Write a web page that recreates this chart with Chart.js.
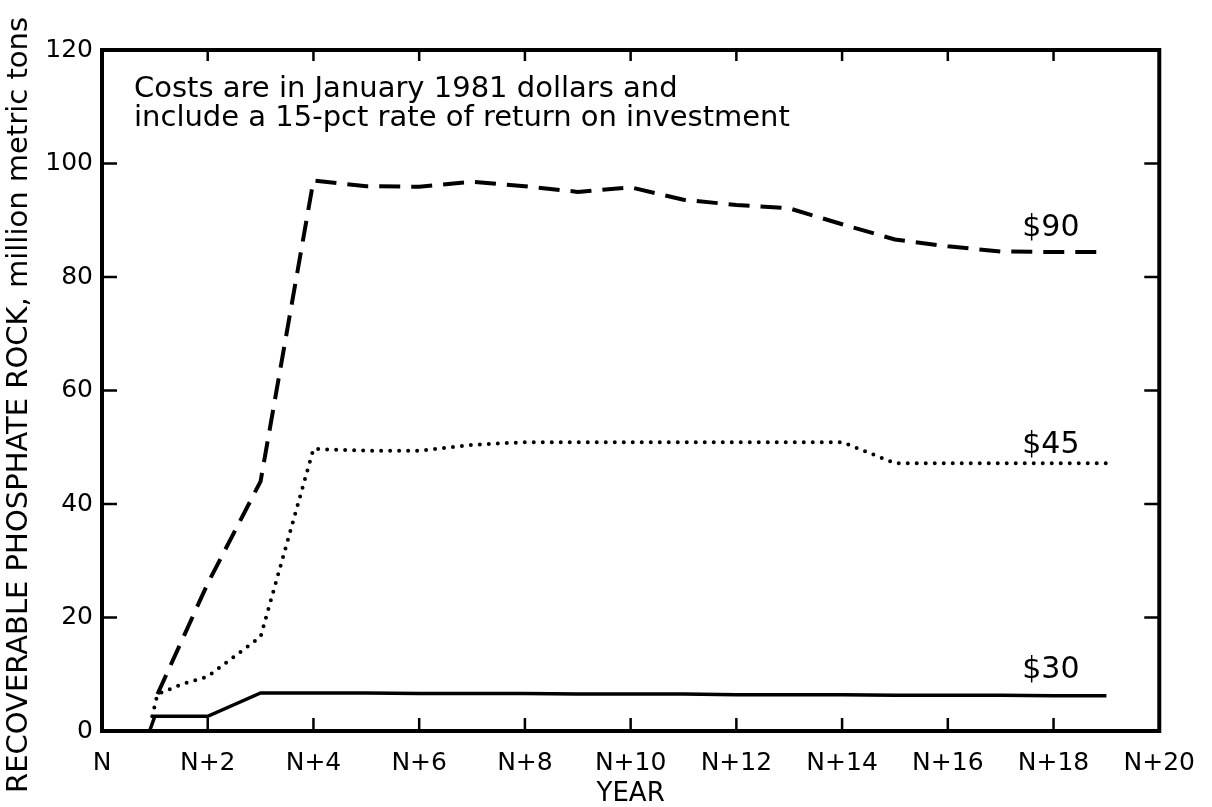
<!DOCTYPE html>
<html>
<head>
<meta charset="utf-8">
<script src="https://cdn.jsdelivr.net/npm/chart.js@4.4.0/dist/chart.umd.min.js"></script>
<style>
  body { margin: 0; background: #fff; }
</style>
</head>
<body>
<canvas id="rockChart" width="1212" height="807"></canvas>
<script>
// values (x = years after N, y = million metric tons)
const year90 = [1.05, 2, 3, 4, 5, 6, 7, 8, 9, 10, 11, 12, 13, 14, 15, 16, 17, 18, 19];
const tons90 = [6.5, 26, 44, 97, 96, 95.9, 96.8, 96, 95, 95.8, 93.6, 92.7, 92.1, 89.3, 86.6, 85.4, 84.5, 84.4, 84.4];

const year45 = [0.95, 1.05, 1.5, 2, 3, 4, 5, 6, 7, 8, 9, 10, 11, 12, 13, 14, 15, 16, 17, 18, 19];
const tons45 = [2.6, 6.5, 8.2, 9.6, 16.6, 49.7, 49.4, 49.4, 50.4, 50.9, 50.9, 50.9, 50.9, 50.9, 50.9, 50.9, 47.2, 47.2, 47.2, 47.2, 47.2];

const year30 = [0.9, 1, 2, 3, 4, 5, 6, 7, 8, 9, 10, 11, 12, 13, 14, 15, 16, 17, 18, 19];
const tons30 = [0, 2.6, 2.6, 6.7, 6.7, 6.7, 6.6, 6.6, 6.6, 6.5, 6.5, 6.5, 6.4, 6.4, 6.4, 6.3, 6.3, 6.3, 6.2, 6.2];

const seriesNames = ['$90', '$45', '$30'];
const xTickValues = [0, 2, 4, 6, 8, 10, 12, 14, 16, 18, 20];
const yTickValues = [0, 20, 40, 60, 80, 100, 120];
const noteLines = ['Costs are in January 1981 dollars and', 'include a 15-pct rate of return on investment'];
const xTitle = 'YEAR';
const yTitle = 'RECOVERABLE PHOSPHATE ROCK, million metric tons';

const FONT = '"DejaVu Sans", sans-serif';

const toPoints = (xs, ys) => xs.map((x, i) => ({ x: x, y: ys[i] }));

// frame, inward ticks, axis titles, series labels and the note
const framePlugin = {
  id: 'frame',
  afterDraw(chart) {
    const ctx = chart.ctx;
    const a = chart.chartArea;
    const xs = chart.scales.x;
    const ys = chart.scales.y;
    ctx.save();
    ctx.strokeStyle = '#000';
    ctx.lineCap = 'square';
    ctx.lineWidth = 4;
    ctx.strokeRect(a.left, a.top, a.right - a.left, a.bottom - a.top);

    ctx.lineWidth = 2.5;
    ctx.lineCap = 'butt';
    xTickValues.slice(1, -1).forEach(v => {
      const px = xs.getPixelForValue(v);
      ctx.beginPath();
      ctx.moveTo(px, a.bottom); ctx.lineTo(px, a.bottom - 13);
      ctx.moveTo(px, a.top); ctx.lineTo(px, a.top + 11);
      ctx.stroke();
    });
    yTickValues.slice(1, -1).forEach(v => {
      const py = ys.getPixelForValue(v);
      ctx.beginPath();
      ctx.moveTo(a.left, py); ctx.lineTo(a.left + 15, py);
      ctx.moveTo(a.right, py); ctx.lineTo(a.right - 15, py);
      ctx.stroke();
    });

    ctx.fillStyle = '#000';
    ctx.textAlign = 'center';
    ctx.textBaseline = 'middle';

    // axis titles
    ctx.font = '26px ' + FONT;
    ctx.fillText(xTitle, (a.left + a.right) / 2, 794);
    ctx.save();
    ctx.translate(19, 405);
    ctx.rotate(-Math.PI / 2);
    ctx.font = '29px ' + FONT;
    ctx.fillText(yTitle, 0, 0);
    ctx.restore();

    // series labels next to the line ends
    ctx.font = '30px ' + FONT;
    const labelY = [88.6, 50.3, 10.8];
    seriesNames.forEach((name, i) => {
      ctx.fillText(name, xs.getPixelForValue(17.95), ys.getPixelForValue(labelY[i]));
    });

    // note in the upper left
    ctx.font = '29px ' + FONT;
    ctx.textAlign = 'left';
    ctx.fillText(noteLines[0], 134, 89);
    ctx.fillText(noteLines[1], 134, 118);
    ctx.restore();
  }
};

new Chart(document.getElementById('rockChart'), {
  type: 'line',
  data: {
    datasets: [
      {
        label: seriesNames[0],
        data: toPoints(year90, tons90),
        borderColor: '#000',
        borderWidth: 4,
        borderDash: [21, 11],
        pointRadius: 0,
        tension: 0
      },
      {
        label: seriesNames[1],
        data: toPoints(year45, tons45),
        borderColor: '#000',
        borderWidth: 4,
        borderDash: [0, 9],
        borderCapStyle: 'round',
        pointRadius: 0,
        tension: 0
      },
      {
        label: seriesNames[2],
        data: toPoints(year30, tons30),
        borderColor: '#000',
        borderWidth: 3.5,
        pointRadius: 0,
        tension: 0
      }
    ]
  },
  options: {
    responsive: false,
    animation: false,
    layout: { padding: { top: 50, right: 52, left: 0, bottom: 0 } },
    plugins: {
      legend: { display: false },
      tooltip: { enabled: false }
    },
    scales: {
      x: {
        type: 'linear',
        min: 0,
        max: 20,
        afterBuildTicks: (scale) => { scale.ticks = xTickValues.map(v => ({ value: v })); },
        afterFit: (scale) => { scale.height = 76; },
        grid: { display: false, drawTicks: false },
        border: { display: false },
        ticks: {
          padding: 17,
          color: '#000',
          font: { family: FONT, size: 25 },
          maxRotation: 0,
          callback: (v) => (v === 0 ? 'N' : 'N+' + v)
        }
      },
      y: {
        min: 0,
        max: 120,
        afterBuildTicks: (scale) => { scale.ticks = yTickValues.map(v => ({ value: v })); },
        afterFit: (scale) => { scale.width = 102; },
        grid: { display: false, drawTicks: false },
        border: { display: false },
        ticks: {
          padding: 9,
          color: '#000',
          font: { family: FONT, size: 25 }
        }
      }
    }
  },
  plugins: [framePlugin]
});
</script>
</body>
</html>
